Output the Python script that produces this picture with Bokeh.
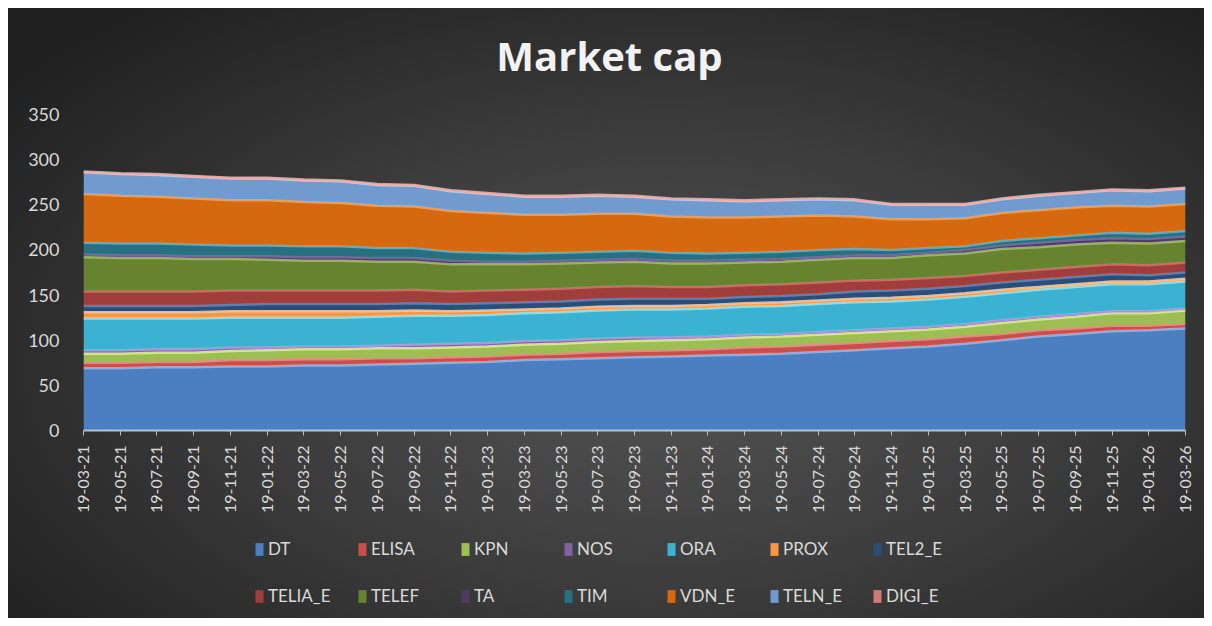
import math
from bokeh.plotting import figure
from bokeh.layouts import column
from bokeh.models import Range1d, FixedTicker, Legend, LegendItem, ColumnDataSource, Label
from bokeh.embed import file_html
from bokeh.resources import INLINE

dates = ["19-03-21", "19-05-21", "19-07-21", "19-09-21", "19-11-21", "19-01-22", "19-03-22",
         "19-05-22", "19-07-22", "19-09-22", "19-11-22", "19-01-23", "19-03-23", "19-05-23",
         "19-07-23", "19-09-23", "19-11-23", "19-01-24", "19-03-24", "19-05-24", "19-07-24",
         "19-09-24", "19-11-24", "19-01-25", "19-03-25", "19-05-25", "19-07-25", "19-09-25",
         "19-11-25", "19-01-26", "19-03-26"]

DT = [69, 69, 70, 70, 71, 71, 72, 72, 73, 74, 75, 76, 78, 79, 80, 81, 82, 83, 84, 85, 87, 89, 91, 93, 96, 100, 104, 107, 110, 111, 113]
ELISA = [6, 6, 6, 6, 7, 7, 7, 7, 7, 6, 6, 6, 6, 6, 7, 7, 7, 7, 8, 8, 8, 8, 8, 8, 8, 7, 7, 6, 6, 5, 5]
KPN = [10, 10, 10, 10, 10, 11, 11, 11, 11, 11, 11, 11, 11, 11, 11, 11, 11, 11, 11, 11, 11, 11, 11, 11, 11, 12, 12, 13, 14, 14, 15]
NOS = [4, 4, 4, 4, 4, 3, 3, 3, 3, 4, 4, 4, 4, 4, 4, 4, 3, 3, 3, 3, 3, 3, 3, 3, 3, 3, 3, 3, 2, 2, 2]
ORA = [35, 35, 34, 34, 33, 33, 32, 32, 32, 32, 31, 31, 31, 31, 31, 31, 31, 31, 31, 31, 31, 31, 30, 30, 30, 30, 30, 30, 30, 30, 30]
PROX = [7, 7, 7, 7, 7, 7, 7, 7, 6, 6, 5, 5, 4, 4, 4, 4, 4, 4, 4, 4, 4, 4, 4, 4, 4, 4, 3, 3, 3, 3, 3]
TEL2_E = [7, 7, 7, 7, 7, 8, 8, 8, 8, 8, 8, 8, 8, 8, 8, 8, 8, 7, 7, 7, 7, 8, 8, 8, 8, 8, 8, 8, 8, 7, 7]
TELIA_E = [16, 16, 16, 16, 16, 15, 15, 15, 15, 15, 14, 14, 14, 14, 14, 14, 13, 13, 13, 13, 13, 12, 12, 12, 11, 11, 11, 11, 11, 11, 11]
TELEF = [38, 37, 37, 36, 35, 34, 33, 33, 32, 31, 30, 29, 28, 28, 27, 27, 26, 26, 25, 25, 25, 25, 24, 25, 25, 26, 25, 25, 24, 24, 24]
TA = [3, 3, 3, 3, 3, 4, 4, 4, 4, 4, 4, 3, 3, 3, 3, 3, 3, 3, 3, 3, 3, 3, 3, 3, 4, 4, 5, 5, 5, 5, 5]
TIM = [13, 13, 13, 13, 12, 12, 12, 12, 11, 11, 10, 10, 9, 9, 9, 9, 9, 8, 8, 8, 8, 7, 6, 5, 4, 5, 5, 5, 6, 6, 6]
VDN_E = [54, 53, 52, 51, 50, 50, 49, 48, 47, 46, 45, 44, 43, 42, 42, 41, 40, 40, 39, 39, 38, 36, 34, 32, 31, 31, 31, 31, 30, 30, 30]
TELN_E = [24, 24, 24, 24, 24, 24, 24, 24, 23, 23, 22, 21, 20, 20, 20, 19, 19, 19, 18, 18, 18, 18, 16, 16, 15, 15, 16, 16, 17, 17, 17]
DIGI_E = [1] * 31

names = ["DT", "ELISA", "KPN", "NOS", "ORA", "PROX", "TEL2_E", "TELIA_E", "TELEF", "TA", "TIM", "VDN_E", "TELN_E", "DIGI_E"]
series = [DT, ELISA, KPN, NOS, ORA, PROX, TEL2_E, TELIA_E, TELEF, TA, TIM, VDN_E, TELN_E, DIGI_E]

fills = ["#4B7FC2", "#C94F4C", "#9DBE55", "#8064A2", "#3BB2D2", "#F79646", "#2C4D75", "#A03E3C",
         "#68832F", "#4D3B62", "#286F82", "#D6680F", "#719BCF", "#D27A78"]
highs = ["#8CB6EC", "#F08A88", "#D8F08A", "#B49BD4", "#86E6FA", "#FFC58C", "#5C86BA", "#D46E6C",
         "#9CBC60", "#7E6A98", "#5FB3C8", "#F8A04E", "#B4D6FA", "#F0A8A6"]

data = {"x": list(range(len(dates)))}
for n, s in zip(names, series):
    data[n] = s
source = ColumnDataSource(data)

def strip(h, xr, yr):
    f = figure(width=1196, height=h, output_backend="svg", toolbar_location=None,
               x_range=xr, y_range=yr, x_axis_type=None, y_axis_type=None,
               min_border_left=0, min_border_right=0, min_border_top=0, min_border_bottom=0)
    f.background_fill_alpha = 0
    f.border_fill_alpha = 0
    f.outline_line_alpha = 0
    f.xgrid.grid_line_color = None
    f.ygrid.grid_line_color = None
    return f

# ---- title strip ----
t = strip(80, Range1d(0, 1102), Range1d(0, 80))
t.add_layout(Label(x=526, y=33, text="Market cap", text_align="center", text_baseline="middle",
                   text_font="Open Sans", text_font_size="40px", text_font_style="bold",
                   text_color="#F2F2F2"))

# ---- main chart ----
p = figure(width=1196, height=430, output_backend="svg", toolbar_location=None,
           x_range=Range1d(0, len(dates) - 1), y_range=Range1d(0, 350),
           min_border_left=75, min_border_right=19, min_border_top=26, min_border_bottom=88)
p.background_fill_alpha = 0
p.border_fill_alpha = 0
p.outline_line_alpha = 0

areas = p.varea_stack(stackers=names, x="x", color=fills, source=source)
p.vline_stack(stackers=names, x="x", color=highs, line_width=2.5, line_alpha=0.9, source=source)

p.xgrid.grid_line_color = None
p.ygrid.grid_line_color = None

xa = p.xaxis[0]
xa.ticker = FixedTicker(ticks=list(range(len(dates))))
xa.major_label_overrides = {i: d for i, d in enumerate(dates)}
xa.major_label_orientation = math.pi / 2
xa.major_label_text_font = "Lato"
xa.major_label_text_font_size = "16px"
xa.major_label_text_color = "#D9D9D9"
xa.axis_line_color = "#BFBFBF"
xa.axis_line_width = 2
xa.major_tick_line_color = "#BFBFBF"
xa.major_tick_out = 5
xa.major_tick_in = 0
xa.minor_tick_line_color = None
xa.major_label_standoff = 10

ya = p.yaxis[0]
ya.ticker = FixedTicker(ticks=[0, 50, 100, 150, 200, 250, 300, 350])
ya.major_label_text_font = "Lato"
ya.major_label_text_font_size = "18px"
ya.major_label_text_color = "#D9D9D9"
ya.axis_line_color = None
ya.major_tick_line_color = None
ya.minor_tick_line_color = None
ya.major_label_standoff = 18

# ---- legend strip ----
q = strip(100, Range1d(0, len(dates) - 1), Range1d(1000, 1001))
lareas = q.varea_stack(stackers=names, x="x", color=fills, source=source)

def make_legend(idx, vy):
    items = [LegendItem(label=names[i], renderers=[lareas[i]]) for i in idx]
    lg = Legend(items=items, orientation="horizontal", location=(171, vy),
                padding=0, margin=0, spacing=0, border_line_alpha=0, background_fill_alpha=0,
                glyph_width=10, glyph_height=16, label_height=16, label_width=89, label_standoff=4,
                label_text_font="Lato", label_text_font_size="17px", label_text_color="#D9D9D9")
    q.add_layout(lg, "center")

make_legend(range(0, 7), 59)
make_legend(range(7, 14), 12)

layout = column(t, p, q, spacing=0)
layout.styles = {"background": "radial-gradient(ellipse 70% 75% at 55% 58%, #545454 0%, #3c3c3c 50%, #202020 100%)",
                 "margin": "8px"}

open("out.html", "w").write(file_html(layout, INLINE))
